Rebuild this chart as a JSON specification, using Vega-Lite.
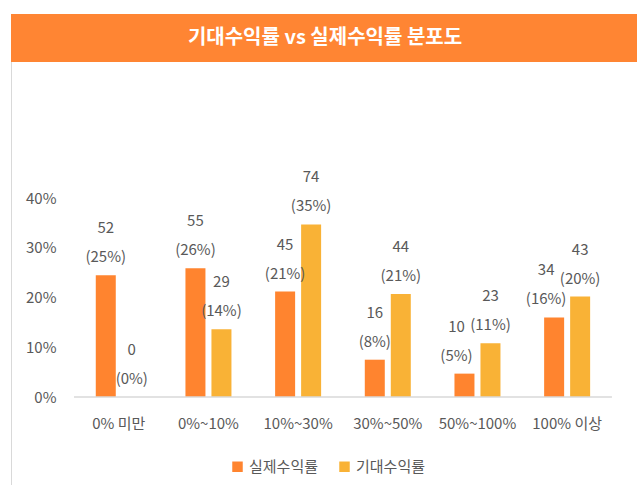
{
  "$schema": "https://vega.github.io/schema/vega-lite/v6.json",
  "background": "white",
  "autosize": {"type": "none"},
  "padding": {"left": 11, "top": 14, "right": 0, "bottom": 0},
  "width": 626,
  "height": 471,
  "config": {
    "font": "Noto Sans CJK KR",
    "view": {"stroke": "#D9D9D9", "strokeWidth": 1}
  },
  "data": {"values": [
    {"cat": "0% 미만", "series": "실제수익률", "value": 0.245, "label": "52\n(25%)"},
    {"cat": "0% 미만", "series": "기대수익률", "value": 0.0, "label": "0\n(0%)"},
    {"cat": "0%~10%", "series": "실제수익률", "value": 0.259, "label": "55\n(26%)"},
    {"cat": "0%~10%", "series": "기대수익률", "value": 0.136, "label": "29\n(14%)"},
    {"cat": "10%~30%", "series": "실제수익률", "value": 0.212, "label": "45\n(21%)"},
    {"cat": "10%~30%", "series": "기대수익률", "value": 0.347, "label": "74\n(35%)"},
    {"cat": "30%~50%", "series": "실제수익률", "value": 0.075, "label": "16\n(8%)"},
    {"cat": "30%~50%", "series": "기대수익률", "value": 0.207, "label": "44\n(21%)"},
    {"cat": "50%~100%", "series": "실제수익률", "value": 0.047, "label": "10\n(5%)"},
    {"cat": "50%~100%", "series": "기대수익률", "value": 0.108, "label": "23\n(11%)"},
    {"cat": "100% 이상", "series": "실제수익률", "value": 0.160, "label": "34\n(16%)"},
    {"cat": "100% 이상", "series": "기대수익률", "value": 0.202, "label": "43\n(20%)"}
  ]},
  "layer": [
    {
      "mark": {"type": "bar"},
      "encoding": {
        "x": {
          "field": "cat", "type": "nominal", "sort": null, "title": null,
          "scale": {"paddingInner": 0.487, "paddingOuter": 0.734, "align": 0.644},
          "axis": {"labelAngle": 0, "labelFontSize": 15, "labelColor": "#595959", "labelPadding": 19, "ticks": false, "domain": false, "grid": false, "offset": -88, "labelFont": "Noto Sans CJK KR"}
        },
        "xOffset": {
          "field": "series", "type": "nominal", "sort": ["실제수익률", "기대수익률"],
          "scale": {"paddingInner": 0.2308, "paddingOuter": 0}
        },
        "y": {
          "field": "value", "type": "quantitative", "title": null,
          "scale": {"domain": [-0.1769, 0.77], "nice": false, "zero": false},
          "axis": {"values": [0, 0.1, 0.2, 0.3, 0.4], "format": ".0%", "labelFontSize": 15, "labelColor": "#595959", "labelPadding": 18, "ticks": false, "domain": false, "grid": false, "offset": -63, "labelFont": "Noto Sans CJK KR"}
        },
        "color": {
          "field": "series", "type": "nominal",
          "sort": ["실제수익률", "기대수익률"],
          "scale": {"domain": ["실제수익률", "기대수익률"], "range": ["#FF842F", "#F9B236"]},
          "legend": {
            "title": null, "orient": "none", "direction": "horizontal",
            "legendX": 219, "legendY": 445,
            "symbolType": "square", "symbolSize": 110, "symbolStrokeWidth": 0,
            "labelFontSize": 15, "labelColor": "#595959", "columnPadding": 18, "labelFont": "Noto Sans CJK KR"
          }
        }
      }
    },
    {
      "transform": [{"filter": "!(datum.series === '실제수익률' && (datum.cat === '50%~100%' || datum.cat === '100% 이상'))"}],
      "mark": {"type": "text", "baseline": "bottom", "align": "center", "dy": -39, "fontSize": 15, "lineBreak": "\n", "lineHeight": 29, "color": "#595959", "font": "Noto Sans CJK KR"},
      "encoding": {
        "x": {"field": "cat", "type": "nominal", "sort": null},
        "xOffset": {"field": "series", "type": "nominal", "sort": ["실제수익률", "기대수익률"]},
        "y": {"field": "value", "type": "quantitative"},
        "text": {"field": "label", "type": "nominal"}
      }
    },
    {
      "transform": [{"filter": "datum.series === '실제수익률' && (datum.cat === '50%~100%' || datum.cat === '100% 이상')"}],
      "mark": {"type": "text", "baseline": "bottom", "align": "center", "dy": -39, "dx": -8, "fontSize": 15, "lineBreak": "\n", "lineHeight": 29, "color": "#595959", "font": "Noto Sans CJK KR"},
      "encoding": {
        "x": {"field": "cat", "type": "nominal", "sort": null},
        "xOffset": {"field": "series", "type": "nominal", "sort": ["실제수익률", "기대수익률"]},
        "y": {"field": "value", "type": "quantitative"},
        "text": {"field": "label", "type": "nominal"}
      }
    },
    {
      "data": {"values": [{"title": "기대수익률 vs 실제수익률 분포도"}]},
      "mark": {"type": "rect", "color": "#FF8533"},
      "encoding": {
        "y": {"datum": 0.6735, "type": "quantitative", "title": null},
        "y2": {"datum": 0.77}
      }
    },
    {
      "data": {"values": [{"title": "기대수익률 vs 실제수익률 분포도"}]},
      "mark": {"type": "text", "color": "white", "fontSize": 20, "fontWeight": "bold", "font": "Noto Sans CJK KR", "baseline": "middle", "align": "center", "dx": 1},
      "encoding": {
        "y": {"datum": 0.7218, "type": "quantitative", "title": null},
        "text": {"field": "title", "type": "nominal"}
      }
    },
    {
      "data": {"values": [{"title": "baseline"}]},
      "mark": {"type": "rule", "color": "#D9D9D9", "strokeWidth": 1.5},
      "encoding": {
        "x": {"datum": "0% 미만", "type": "nominal", "bandPosition": -0.474},
        "x2": {"datum": "100% 이상", "bandPosition": 1.474},
        "y": {"datum": 0, "type": "quantitative", "title": null}
      }
    }
  ]
}
